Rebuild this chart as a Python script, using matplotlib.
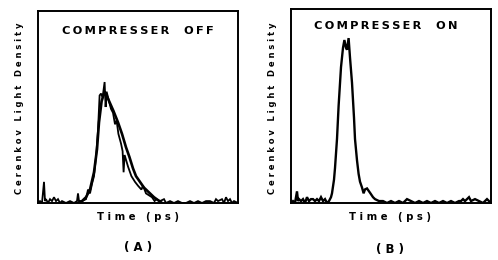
import matplotlib
matplotlib.use("Agg")
import matplotlib.pyplot as plt

# ---- data (arbitrary time units 0-100, normalised density 0-1) ----
a_time = [0, 1, 2, 3, 3.5, 4, 5, 6, 7, 8, 9, 10, 11, 12, 14, 16, 18, 19.5, 20, 20.5, 21, 22, 24, 25,
          26, 27, 28, 29, 30, 30.8, 31.5, 32.3, 33.3, 33.8, 34.3, 35.5, 36.5, 37.5, 38.5, 39.3, 40.2,
          41.5, 42.3, 42.8, 43.3, 45, 46.7, 48.5, 50, 51.7, 52.5, 54, 55.5, 57, 58.3, 59, 61, 63, 64,
          66, 68, 70, 72, 74, 76, 78, 80, 82, 84, 86, 88, 89, 90, 92, 93, 94, 95, 96, 97, 98, 100]
a_signal = [0.0, 0.01, 0.0, 0.11, 0.01, 0.02, 0.0, 0.02, 0.01, 0.03, 0.01, 0.02, 0.0, 0.01, 0.0, 0.01,
            0.0, 0.01, 0.05, 0.01, 0.01, 0.01, 0.02, 0.07, 0.05, 0.1, 0.14, 0.24, 0.38, 0.56, 0.57, 0.55,
            0.63, 0.5, 0.58, 0.53, 0.49, 0.47, 0.41, 0.43, 0.36, 0.31, 0.27, 0.16, 0.25, 0.19, 0.14, 0.11,
            0.09, 0.07, 0.09, 0.05, 0.04, 0.03, 0.01, 0.02, 0.01, 0.02, 0.0, 0.01, 0.0, 0.01, 0.0, 0.0,
            0.01, 0.0, 0.01, 0.0, 0.01, 0.01, 0.0, 0.02, 0.01, 0.02, 0.0, 0.03, 0.01, 0.02, 0.0, 0.01, 0.0]

a_fit_time = [20, 22, 24, 26, 28, 29.5, 30.5, 31.8, 33, 34.3, 36, 37.7, 40, 42, 44, 45.7, 47.5, 49,
              51, 53, 56, 58, 60, 62]
a_fit = [0.0, 0.01, 0.03, 0.07, 0.16, 0.28, 0.42, 0.53, 0.57, 0.56, 0.52, 0.48, 0.42, 0.36, 0.29,
         0.24, 0.18, 0.14, 0.11, 0.08, 0.05, 0.03, 0.015, 0.0]

b_time = [0, 1, 2, 3, 3.5, 4, 5, 6, 7, 8, 9, 10, 11, 12, 13, 14, 15, 16, 17, 18, 19, 20, 20.5, 21.5,
          22, 23, 23.8, 25, 26, 26.7, 27.5, 28, 28.8, 29.5, 30.5, 31.5, 32, 33, 33.8, 34.5, 35.5, 36.3,
          37, 38, 39.7, 41, 42, 43, 44, 46, 48, 50, 52, 54, 56, 58, 60, 62, 64, 66, 68, 70, 72, 74, 76,
          78, 80, 82, 84, 85, 86, 87, 88, 89, 90, 92, 94, 96, 98, 100]
b_signal = [0.0, 0.01, 0.0, 0.06, 0.01, 0.02, 0.01, 0.02, 0.0, 0.03, 0.01, 0.02, 0.02, 0.01, 0.02,
            0.01, 0.03, 0.01, 0.02, 0.0, 0.01, 0.03, 0.05, 0.12, 0.18, 0.33, 0.5, 0.7, 0.8, 0.84, 0.8,
            0.79, 0.85, 0.75, 0.62, 0.44, 0.33, 0.22, 0.15, 0.11, 0.08, 0.05, 0.07, 0.075, 0.05, 0.03,
            0.02, 0.015, 0.01, 0.01, 0.0, 0.01, 0.0, 0.01, 0.0, 0.02, 0.01, 0.0, 0.01, 0.0, 0.01, 0.0,
            0.01, 0.0, 0.01, 0.0, 0.01, 0.0, 0.01, 0.01, 0.02, 0.01, 0.02, 0.03, 0.01, 0.02, 0.01, 0.0,
            0.02, 0.0]

panel_titles = ["COMPRESSER  OFF", "COMPRESSER  ON"]
panel_labels = ["(A)", "(B)"]
x_label = "Time (ps)"
y_label = "Cerenkov Light Density"


def spaced(s, sep="\u2009"):
    return sep.join(s)


W, H = 498, 260
fig = plt.figure(figsize=(W / 100, H / 100), dpi=100)
fig.patch.set_facecolor("white")

boxes = [(38, 11, 238, 203), (291, 9, 491, 203)]
title_pos = [(138, 31), (386, 26)]
xlab_pos = [(138, 217), (390, 217)]
cap_pos = [(138, 248), (390, 249)]
ylab_x = [20, 272]
trace_lw = [1.3, 1.7]

datasets = [(a_time, a_signal, a_fit_time, a_fit), (b_time, b_signal, None, None)]

for i, (l, t, r, b) in enumerate(boxes):
    ax = fig.add_axes([l / W, 1 - b / H, (r - l) / W, (b - t) / H])
    tt, ss, ft, ff = datasets[i]
    ax.plot(tt, ss, color="black", lw=trace_lw[i], solid_joinstyle="miter")
    if ft is not None:
        ax.plot(ft, ff, color="black", lw=1.9)
    ax.set_xlim(0, 100)
    ax.set_ylim(0, 1)
    ax.set_xticks([])
    ax.set_yticks([])
    for sp in ax.spines.values():
        sp.set_linewidth(1.4)
        sp.set_color("black")

    fig.text(title_pos[i][0] / W, 1 - title_pos[i][1] / H, spaced(panel_titles[i], "\u2009"),
             ha="center", va="center", fontsize=8.2, fontweight="bold", family="DejaVu Sans")
    fig.text(xlab_pos[i][0] / W, 1 - xlab_pos[i][1] / H, spaced(x_label, " "),
             ha="center", va="center", fontsize=7.3, fontweight="bold", family="DejaVu Sans")
    fig.text(cap_pos[i][0] / W, 1 - cap_pos[i][1] / H, spaced(panel_labels[i], " "),
             ha="center", va="center", fontsize=8.5, fontweight="bold", family="DejaVu Sans")
    fig.text(ylab_x[i] / W, 1 - 108 / H, spaced(y_label, " "), rotation=90,
             ha="center", va="center", fontsize=6, fontweight="bold", family="DejaVu Sans")

fig.savefig("out.png", dpi=100, facecolor="white")
